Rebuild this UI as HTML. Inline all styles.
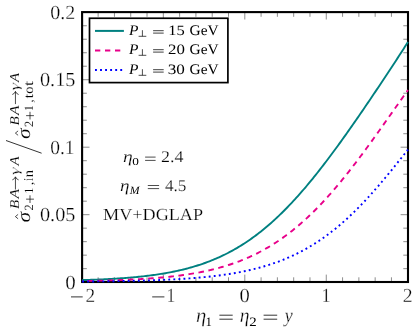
<!DOCTYPE html>
<html><head><meta charset="utf-8"><title>plot</title>
<style>
html,body{margin:0;padding:0;background:#fff;}
svg{display:block;will-change:transform;}
text{font-family:"Liberation Serif",serif;fill:#000;text-rendering:geometricPrecision;}
.it{font-style:italic;}
.t3 text{stroke:#fff;stroke-width:0.28px;}
.t2 text{stroke:#fff;stroke-width:0.2px;}
.t1 text{stroke:#fff;stroke-width:0.12px;}
svg text.nt{stroke:none;}
svg text.g{stroke:#fff;stroke-width:0.3px;}
</style></head><body>
<svg width="418" height="332" viewBox="0 0 418 332">
<rect width="418" height="332" fill="#fff"/>
<g id="ticks">
<line x1="81.85" y1="282.0" x2="81.85" y2="274.60" stroke="#5c5c5c" stroke-width="0.7"/>
<line x1="81.85" y1="12.1" x2="81.85" y2="19.50" stroke="#5c5c5c" stroke-width="0.7"/>
<line x1="98.14" y1="282.0" x2="98.14" y2="277.30" stroke="#5c5c5c" stroke-width="0.7"/>
<line x1="98.14" y1="12.1" x2="98.14" y2="16.80" stroke="#5c5c5c" stroke-width="0.7"/>
<line x1="114.44" y1="282.0" x2="114.44" y2="277.30" stroke="#5c5c5c" stroke-width="0.7"/>
<line x1="114.44" y1="12.1" x2="114.44" y2="16.80" stroke="#5c5c5c" stroke-width="0.7"/>
<line x1="130.73" y1="282.0" x2="130.73" y2="277.30" stroke="#5c5c5c" stroke-width="0.7"/>
<line x1="130.73" y1="12.1" x2="130.73" y2="16.80" stroke="#5c5c5c" stroke-width="0.7"/>
<line x1="147.03" y1="282.0" x2="147.03" y2="277.30" stroke="#5c5c5c" stroke-width="0.7"/>
<line x1="147.03" y1="12.1" x2="147.03" y2="16.80" stroke="#5c5c5c" stroke-width="0.7"/>
<line x1="163.32" y1="282.0" x2="163.32" y2="274.60" stroke="#5c5c5c" stroke-width="0.7"/>
<line x1="163.32" y1="12.1" x2="163.32" y2="19.50" stroke="#5c5c5c" stroke-width="0.7"/>
<line x1="179.62" y1="282.0" x2="179.62" y2="277.30" stroke="#5c5c5c" stroke-width="0.7"/>
<line x1="179.62" y1="12.1" x2="179.62" y2="16.80" stroke="#5c5c5c" stroke-width="0.7"/>
<line x1="195.91" y1="282.0" x2="195.91" y2="277.30" stroke="#5c5c5c" stroke-width="0.7"/>
<line x1="195.91" y1="12.1" x2="195.91" y2="16.80" stroke="#5c5c5c" stroke-width="0.7"/>
<line x1="212.21" y1="282.0" x2="212.21" y2="277.30" stroke="#5c5c5c" stroke-width="0.7"/>
<line x1="212.21" y1="12.1" x2="212.21" y2="16.80" stroke="#5c5c5c" stroke-width="0.7"/>
<line x1="228.50" y1="282.0" x2="228.50" y2="277.30" stroke="#5c5c5c" stroke-width="0.7"/>
<line x1="228.50" y1="12.1" x2="228.50" y2="16.80" stroke="#5c5c5c" stroke-width="0.7"/>
<line x1="244.80" y1="282.0" x2="244.80" y2="274.60" stroke="#5c5c5c" stroke-width="0.7"/>
<line x1="244.80" y1="12.1" x2="244.80" y2="19.50" stroke="#5c5c5c" stroke-width="0.7"/>
<line x1="261.09" y1="282.0" x2="261.09" y2="277.30" stroke="#5c5c5c" stroke-width="0.7"/>
<line x1="261.09" y1="12.1" x2="261.09" y2="16.80" stroke="#5c5c5c" stroke-width="0.7"/>
<line x1="277.39" y1="282.0" x2="277.39" y2="277.30" stroke="#5c5c5c" stroke-width="0.7"/>
<line x1="277.39" y1="12.1" x2="277.39" y2="16.80" stroke="#5c5c5c" stroke-width="0.7"/>
<line x1="293.68" y1="282.0" x2="293.68" y2="277.30" stroke="#5c5c5c" stroke-width="0.7"/>
<line x1="293.68" y1="12.1" x2="293.68" y2="16.80" stroke="#5c5c5c" stroke-width="0.7"/>
<line x1="309.98" y1="282.0" x2="309.98" y2="277.30" stroke="#5c5c5c" stroke-width="0.7"/>
<line x1="309.98" y1="12.1" x2="309.98" y2="16.80" stroke="#5c5c5c" stroke-width="0.7"/>
<line x1="326.27" y1="282.0" x2="326.27" y2="274.60" stroke="#5c5c5c" stroke-width="0.7"/>
<line x1="326.27" y1="12.1" x2="326.27" y2="19.50" stroke="#5c5c5c" stroke-width="0.7"/>
<line x1="342.57" y1="282.0" x2="342.57" y2="277.30" stroke="#5c5c5c" stroke-width="0.7"/>
<line x1="342.57" y1="12.1" x2="342.57" y2="16.80" stroke="#5c5c5c" stroke-width="0.7"/>
<line x1="358.87" y1="282.0" x2="358.87" y2="277.30" stroke="#5c5c5c" stroke-width="0.7"/>
<line x1="358.87" y1="12.1" x2="358.87" y2="16.80" stroke="#5c5c5c" stroke-width="0.7"/>
<line x1="375.16" y1="282.0" x2="375.16" y2="277.30" stroke="#5c5c5c" stroke-width="0.7"/>
<line x1="375.16" y1="12.1" x2="375.16" y2="16.80" stroke="#5c5c5c" stroke-width="0.7"/>
<line x1="391.45" y1="282.0" x2="391.45" y2="277.30" stroke="#5c5c5c" stroke-width="0.7"/>
<line x1="391.45" y1="12.1" x2="391.45" y2="16.80" stroke="#5c5c5c" stroke-width="0.7"/>
<line x1="407.75" y1="282.0" x2="407.75" y2="274.60" stroke="#5c5c5c" stroke-width="0.7"/>
<line x1="407.75" y1="12.1" x2="407.75" y2="19.50" stroke="#5c5c5c" stroke-width="0.7"/>
<line x1="82.1" y1="282.15" x2="89.50" y2="282.15" stroke="#5c5c5c" stroke-width="0.7"/>
<line x1="408.0" y1="282.15" x2="400.60" y2="282.15" stroke="#5c5c5c" stroke-width="0.7"/>
<line x1="82.1" y1="268.65" x2="86.80" y2="268.65" stroke="#5c5c5c" stroke-width="0.7"/>
<line x1="408.0" y1="268.65" x2="403.30" y2="268.65" stroke="#5c5c5c" stroke-width="0.7"/>
<line x1="82.1" y1="255.16" x2="86.80" y2="255.16" stroke="#5c5c5c" stroke-width="0.7"/>
<line x1="408.0" y1="255.16" x2="403.30" y2="255.16" stroke="#5c5c5c" stroke-width="0.7"/>
<line x1="82.1" y1="241.66" x2="86.80" y2="241.66" stroke="#5c5c5c" stroke-width="0.7"/>
<line x1="408.0" y1="241.66" x2="403.30" y2="241.66" stroke="#5c5c5c" stroke-width="0.7"/>
<line x1="82.1" y1="228.17" x2="86.80" y2="228.17" stroke="#5c5c5c" stroke-width="0.7"/>
<line x1="408.0" y1="228.17" x2="403.30" y2="228.17" stroke="#5c5c5c" stroke-width="0.7"/>
<line x1="82.1" y1="214.68" x2="89.50" y2="214.68" stroke="#5c5c5c" stroke-width="0.7"/>
<line x1="408.0" y1="214.68" x2="400.60" y2="214.68" stroke="#5c5c5c" stroke-width="0.7"/>
<line x1="82.1" y1="201.18" x2="86.80" y2="201.18" stroke="#5c5c5c" stroke-width="0.7"/>
<line x1="408.0" y1="201.18" x2="403.30" y2="201.18" stroke="#5c5c5c" stroke-width="0.7"/>
<line x1="82.1" y1="187.69" x2="86.80" y2="187.69" stroke="#5c5c5c" stroke-width="0.7"/>
<line x1="408.0" y1="187.69" x2="403.30" y2="187.69" stroke="#5c5c5c" stroke-width="0.7"/>
<line x1="82.1" y1="174.19" x2="86.80" y2="174.19" stroke="#5c5c5c" stroke-width="0.7"/>
<line x1="408.0" y1="174.19" x2="403.30" y2="174.19" stroke="#5c5c5c" stroke-width="0.7"/>
<line x1="82.1" y1="160.70" x2="86.80" y2="160.70" stroke="#5c5c5c" stroke-width="0.7"/>
<line x1="408.0" y1="160.70" x2="403.30" y2="160.70" stroke="#5c5c5c" stroke-width="0.7"/>
<line x1="82.1" y1="147.20" x2="89.50" y2="147.20" stroke="#5c5c5c" stroke-width="0.7"/>
<line x1="408.0" y1="147.20" x2="400.60" y2="147.20" stroke="#5c5c5c" stroke-width="0.7"/>
<line x1="82.1" y1="133.71" x2="86.80" y2="133.71" stroke="#5c5c5c" stroke-width="0.7"/>
<line x1="408.0" y1="133.71" x2="403.30" y2="133.71" stroke="#5c5c5c" stroke-width="0.7"/>
<line x1="82.1" y1="120.21" x2="86.80" y2="120.21" stroke="#5c5c5c" stroke-width="0.7"/>
<line x1="408.0" y1="120.21" x2="403.30" y2="120.21" stroke="#5c5c5c" stroke-width="0.7"/>
<line x1="82.1" y1="106.72" x2="86.80" y2="106.72" stroke="#5c5c5c" stroke-width="0.7"/>
<line x1="408.0" y1="106.72" x2="403.30" y2="106.72" stroke="#5c5c5c" stroke-width="0.7"/>
<line x1="82.1" y1="93.22" x2="86.80" y2="93.22" stroke="#5c5c5c" stroke-width="0.7"/>
<line x1="408.0" y1="93.22" x2="403.30" y2="93.22" stroke="#5c5c5c" stroke-width="0.7"/>
<line x1="82.1" y1="79.73" x2="89.50" y2="79.73" stroke="#5c5c5c" stroke-width="0.7"/>
<line x1="408.0" y1="79.73" x2="400.60" y2="79.73" stroke="#5c5c5c" stroke-width="0.7"/>
<line x1="82.1" y1="66.23" x2="86.80" y2="66.23" stroke="#5c5c5c" stroke-width="0.7"/>
<line x1="408.0" y1="66.23" x2="403.30" y2="66.23" stroke="#5c5c5c" stroke-width="0.7"/>
<line x1="82.1" y1="52.74" x2="86.80" y2="52.74" stroke="#5c5c5c" stroke-width="0.7"/>
<line x1="408.0" y1="52.74" x2="403.30" y2="52.74" stroke="#5c5c5c" stroke-width="0.7"/>
<line x1="82.1" y1="39.24" x2="86.80" y2="39.24" stroke="#5c5c5c" stroke-width="0.7"/>
<line x1="408.0" y1="39.24" x2="403.30" y2="39.24" stroke="#5c5c5c" stroke-width="0.7"/>
<line x1="82.1" y1="25.75" x2="86.80" y2="25.75" stroke="#5c5c5c" stroke-width="0.7"/>
<line x1="408.0" y1="25.75" x2="403.30" y2="25.75" stroke="#5c5c5c" stroke-width="0.7"/>
<line x1="82.1" y1="12.25" x2="89.50" y2="12.25" stroke="#5c5c5c" stroke-width="0.7"/>
<line x1="408.0" y1="12.25" x2="400.60" y2="12.25" stroke="#5c5c5c" stroke-width="0.7"/>
</g>
<rect x="82.1" y="12.1" width="325.90" height="269.90" fill="none" stroke="#000" stroke-width="2.1"/>
<g fill="none" stroke-width="1.9">
<path d="M82.10,280.11 L83.59,280.06 L85.08,280.02 L86.56,279.97 L88.05,279.92 L89.54,279.87 L91.03,279.82 L92.52,279.76 L94.01,279.71 L95.49,279.65 L96.98,279.59 L98.47,279.53 L99.96,279.46 L101.45,279.40 L102.93,279.33 L104.42,279.26 L105.91,279.18 L107.40,279.11 L108.89,279.03 L110.37,278.95 L111.86,278.87 L113.35,278.78 L114.84,278.69 L116.33,278.60 L117.82,278.50 L119.30,278.41 L120.79,278.30 L122.28,278.20 L123.77,278.09 L125.26,277.98 L126.74,277.86 L128.23,277.75 L129.72,277.62 L131.21,277.50 L132.70,277.37 L134.18,277.23 L135.67,277.09 L137.16,276.95 L138.65,276.80 L140.14,276.65 L141.63,276.49 L143.11,276.33 L144.60,276.16 L146.09,275.98 L147.58,275.81 L149.07,275.62 L150.55,275.43 L152.04,275.24 L153.53,275.04 L155.02,274.83 L156.51,274.61 L157.99,274.39 L159.48,274.17 L160.97,273.93 L162.46,273.69 L163.95,273.44 L165.44,273.19 L166.92,272.92 L168.41,272.65 L169.90,272.37 L171.39,272.09 L172.88,271.79 L174.36,271.49 L175.85,271.17 L177.34,270.85 L178.83,270.52 L180.32,270.18 L181.80,269.83 L183.29,269.47 L184.78,269.10 L186.27,268.72 L187.76,268.33 L189.25,267.93 L190.73,267.51 L192.22,267.09 L193.71,266.66 L195.20,266.21 L196.69,265.75 L198.17,265.28 L199.66,264.80 L201.15,264.30 L202.64,263.80 L204.13,263.27 L205.61,262.74 L207.10,262.19 L208.59,261.63 L210.08,261.06 L211.57,260.47 L213.06,259.86 L214.54,259.24 L216.03,258.61 L217.52,257.96 L219.01,257.30 L220.50,256.62 L221.98,255.92 L223.47,255.21 L224.96,254.48 L226.45,253.74 L227.94,252.98 L229.42,252.20 L230.91,251.41 L232.40,250.60 L233.89,249.77 L235.38,248.92 L236.87,248.06 L238.35,247.17 L239.84,246.27 L241.33,245.35 L242.82,244.42 L244.31,243.46 L245.79,242.49 L247.28,241.49 L248.77,240.48 L250.26,239.45 L251.75,238.40 L253.23,237.33 L254.72,236.24 L256.21,235.13 L257.70,234.00 L259.19,232.85 L260.68,231.68 L262.16,230.49 L263.65,229.29 L265.14,228.06 L266.63,226.81 L268.12,225.54 L269.60,224.25 L271.09,222.95 L272.58,221.62 L274.07,220.27 L275.56,218.90 L277.04,217.51 L278.53,216.11 L280.02,214.68 L281.51,213.23 L283.00,211.76 L284.49,210.28 L285.97,208.77 L287.46,207.25 L288.95,205.70 L290.44,204.14 L291.93,202.56 L293.41,200.96 L294.90,199.34 L296.39,197.70 L297.88,196.05 L299.37,194.38 L300.85,192.68 L302.34,190.98 L303.83,189.25 L305.32,187.51 L306.81,185.75 L308.30,183.97 L309.78,182.18 L311.27,180.37 L312.76,178.55 L314.25,176.71 L315.74,174.86 L317.22,172.99 L318.71,171.10 L320.20,169.21 L321.69,167.29 L323.18,165.37 L324.66,163.43 L326.15,161.48 L327.64,159.52 L329.13,157.54 L330.62,155.55 L332.11,153.55 L333.59,151.54 L335.08,149.52 L336.57,147.49 L338.06,145.44 L339.55,143.39 L341.03,141.33 L342.52,139.26 L344.01,137.17 L345.50,135.08 L346.99,132.99 L348.47,130.88 L349.96,128.77 L351.45,126.64 L352.94,124.52 L354.43,122.38 L355.92,120.24 L357.40,118.09 L358.89,115.93 L360.38,113.77 L361.87,111.60 L363.36,109.43 L364.84,107.25 L366.33,105.07 L367.82,102.88 L369.31,100.69 L370.80,98.49 L372.28,96.29 L373.77,94.08 L375.26,91.87 L376.75,89.65 L378.24,87.43 L379.73,85.20 L381.21,82.97 L382.70,80.74 L384.19,78.50 L385.68,76.25 L387.17,74.00 L388.65,71.75 L390.14,69.49 L391.63,67.23 L393.12,64.96 L394.61,62.69 L396.09,60.41 L397.58,58.12 L399.07,55.83 L400.56,53.53 L402.05,51.22 L403.54,48.91 L405.02,46.58 L406.51,44.25 L408.00,41.91" stroke="#008080"/>
<path d="M82.10,281.01 L83.59,280.99 L85.08,280.96 L86.56,280.93 L88.05,280.91 L89.54,280.88 L91.03,280.85 L92.52,280.82 L94.01,280.79 L95.49,280.75 L96.98,280.72 L98.47,280.69 L99.96,280.65 L101.45,280.61 L102.93,280.58 L104.42,280.54 L105.91,280.50 L107.40,280.45 L108.89,280.41 L110.37,280.37 L111.86,280.32 L113.35,280.27 L114.84,280.22 L116.33,280.17 L117.82,280.12 L119.30,280.06 L120.79,280.01 L122.28,279.95 L123.77,279.89 L125.26,279.83 L126.74,279.76 L128.23,279.70 L129.72,279.63 L131.21,279.56 L132.70,279.49 L134.18,279.41 L135.67,279.34 L137.16,279.26 L138.65,279.17 L140.14,279.09 L141.63,279.00 L143.11,278.91 L144.60,278.82 L146.09,278.72 L147.58,278.62 L149.07,278.52 L150.55,278.41 L152.04,278.30 L153.53,278.19 L155.02,278.07 L156.51,277.95 L157.99,277.83 L159.48,277.70 L160.97,277.57 L162.46,277.44 L163.95,277.30 L165.44,277.15 L166.92,277.00 L168.41,276.85 L169.90,276.69 L171.39,276.53 L172.88,276.36 L174.36,276.19 L175.85,276.01 L177.34,275.83 L178.83,275.64 L180.32,275.45 L181.80,275.25 L183.29,275.04 L184.78,274.83 L186.27,274.61 L187.76,274.39 L189.25,274.15 L190.73,273.92 L192.22,273.67 L193.71,273.42 L195.20,273.16 L196.69,272.89 L198.17,272.62 L199.66,272.34 L201.15,272.05 L202.64,271.75 L204.13,271.44 L205.61,271.12 L207.10,270.80 L208.59,270.47 L210.08,270.12 L211.57,269.77 L213.06,269.41 L214.54,269.04 L216.03,268.66 L217.52,268.27 L219.01,267.87 L220.50,267.45 L221.98,267.03 L223.47,266.60 L224.96,266.15 L226.45,265.69 L227.94,265.23 L229.42,264.74 L230.91,264.25 L232.40,263.75 L233.89,263.23 L235.38,262.70 L236.87,262.15 L238.35,261.60 L239.84,261.03 L241.33,260.44 L242.82,259.84 L244.31,259.23 L245.79,258.61 L247.28,257.96 L248.77,257.31 L250.26,256.64 L251.75,255.95 L253.23,255.25 L254.72,254.53 L256.21,253.80 L257.70,253.05 L259.19,252.28 L260.68,251.50 L262.16,250.70 L263.65,249.88 L265.14,249.05 L266.63,248.19 L268.12,247.33 L269.60,246.44 L271.09,245.53 L272.58,244.61 L274.07,243.67 L275.56,242.71 L277.04,241.73 L278.53,240.74 L280.02,239.72 L281.51,238.69 L283.00,237.64 L284.49,236.56 L285.97,235.47 L287.46,234.36 L288.95,233.23 L290.44,232.08 L291.93,230.91 L293.41,229.72 L294.90,228.51 L296.39,227.28 L297.88,226.03 L299.37,224.76 L300.85,223.47 L302.34,222.16 L303.83,220.83 L305.32,219.48 L306.81,218.11 L308.30,216.72 L309.78,215.31 L311.27,213.88 L312.76,212.43 L314.25,210.96 L315.74,209.47 L317.22,207.96 L318.71,206.44 L320.20,204.89 L321.69,203.32 L323.18,201.74 L324.66,200.13 L326.15,198.51 L327.64,196.86 L329.13,195.20 L330.62,193.53 L332.11,191.83 L333.59,190.11 L335.08,188.38 L336.57,186.63 L338.06,184.87 L339.55,183.08 L341.03,181.28 L342.52,179.47 L344.01,177.64 L345.50,175.79 L346.99,173.93 L348.47,172.05 L349.96,170.16 L351.45,168.26 L352.94,166.34 L354.43,164.41 L355.92,162.46 L357.40,160.50 L358.89,158.53 L360.38,156.55 L361.87,154.56 L363.36,152.56 L364.84,150.55 L366.33,148.52 L367.82,146.49 L369.31,144.45 L370.80,142.40 L372.28,140.34 L373.77,138.28 L375.26,136.21 L376.75,134.13 L378.24,132.05 L379.73,129.96 L381.21,127.87 L382.70,125.77 L384.19,123.67 L385.68,121.56 L387.17,119.46 L388.65,117.35 L390.14,115.24 L391.63,113.12 L393.12,111.01 L394.61,108.90 L396.09,106.79 L397.58,104.68 L399.07,102.57 L400.56,100.46 L402.05,98.36 L403.54,96.26 L405.02,94.16 L406.51,92.07 L408.00,89.98" stroke="#e8008a" stroke-dasharray="5.6,4.55" stroke-dashoffset="5"/>
<path d="M82.10,281.56 L83.59,281.55 L85.08,281.54 L86.56,281.52 L88.05,281.51 L89.54,281.50 L91.03,281.48 L92.52,281.47 L94.01,281.45 L95.49,281.44 L96.98,281.42 L98.47,281.40 L99.96,281.39 L101.45,281.37 L102.93,281.35 L104.42,281.33 L105.91,281.31 L107.40,281.29 L108.89,281.27 L110.37,281.25 L111.86,281.23 L113.35,281.21 L114.84,281.19 L116.33,281.16 L117.82,281.14 L119.30,281.11 L120.79,281.09 L122.28,281.06 L123.77,281.03 L125.26,281.00 L126.74,280.97 L128.23,280.94 L129.72,280.91 L131.21,280.88 L132.70,280.85 L134.18,280.81 L135.67,280.78 L137.16,280.74 L138.65,280.70 L140.14,280.66 L141.63,280.62 L143.11,280.58 L144.60,280.54 L146.09,280.49 L147.58,280.45 L149.07,280.40 L150.55,280.35 L152.04,280.30 L153.53,280.25 L155.02,280.20 L156.51,280.14 L157.99,280.09 L159.48,280.03 L160.97,279.97 L162.46,279.91 L163.95,279.84 L165.44,279.78 L166.92,279.71 L168.41,279.64 L169.90,279.57 L171.39,279.50 L172.88,279.42 L174.36,279.34 L175.85,279.26 L177.34,279.18 L178.83,279.09 L180.32,279.00 L181.80,278.91 L183.29,278.81 L184.78,278.72 L186.27,278.62 L187.76,278.51 L189.25,278.41 L190.73,278.30 L192.22,278.18 L193.71,278.07 L195.20,277.95 L196.69,277.83 L198.17,277.70 L199.66,277.57 L201.15,277.43 L202.64,277.29 L204.13,277.15 L205.61,277.00 L207.10,276.85 L208.59,276.70 L210.08,276.54 L211.57,276.37 L213.06,276.20 L214.54,276.03 L216.03,275.84 L217.52,275.66 L219.01,275.47 L220.50,275.27 L221.98,275.07 L223.47,274.86 L224.96,274.65 L226.45,274.43 L227.94,274.20 L229.42,273.97 L230.91,273.73 L232.40,273.49 L233.89,273.24 L235.38,272.98 L236.87,272.71 L238.35,272.43 L239.84,272.15 L241.33,271.86 L242.82,271.57 L244.31,271.26 L245.79,270.95 L247.28,270.63 L248.77,270.29 L250.26,269.96 L251.75,269.61 L253.23,269.25 L254.72,268.88 L256.21,268.50 L257.70,268.12 L259.19,267.72 L260.68,267.31 L262.16,266.89 L263.65,266.47 L265.14,266.03 L266.63,265.58 L268.12,265.11 L269.60,264.64 L271.09,264.15 L272.58,263.66 L274.07,263.15 L275.56,262.63 L277.04,262.09 L278.53,261.54 L280.02,260.98 L281.51,260.41 L283.00,259.82 L284.49,259.22 L285.97,258.60 L287.46,257.97 L288.95,257.32 L290.44,256.66 L291.93,255.99 L293.41,255.30 L294.90,254.59 L296.39,253.87 L297.88,253.14 L299.37,252.38 L300.85,251.61 L302.34,250.83 L303.83,250.02 L305.32,249.20 L306.81,248.37 L308.30,247.51 L309.78,246.64 L311.27,245.75 L312.76,244.84 L314.25,243.92 L315.74,242.97 L317.22,242.01 L318.71,241.03 L320.20,240.03 L321.69,239.01 L323.18,237.97 L324.66,236.91 L326.15,235.84 L327.64,234.74 L329.13,233.63 L330.62,232.49 L332.11,231.34 L333.59,230.16 L335.08,228.97 L336.57,227.76 L338.06,226.52 L339.55,225.27 L341.03,224.00 L342.52,222.71 L344.01,221.39 L345.50,220.06 L346.99,218.71 L348.47,217.34 L349.96,215.95 L351.45,214.54 L352.94,213.11 L354.43,211.66 L355.92,210.19 L357.40,208.70 L358.89,207.20 L360.38,205.67 L361.87,204.13 L363.36,202.57 L364.84,200.99 L366.33,199.40 L367.82,197.79 L369.31,196.16 L370.80,194.51 L372.28,192.85 L373.77,191.18 L375.26,189.48 L376.75,187.78 L378.24,186.06 L379.73,184.32 L381.21,182.58 L382.70,180.82 L384.19,179.05 L385.68,177.26 L387.17,175.47 L388.65,173.66 L390.14,171.85 L391.63,170.03 L393.12,168.20 L394.61,166.36 L396.09,164.51 L397.58,162.66 L399.07,160.81 L400.56,158.95 L402.05,157.09 L403.54,155.22 L405.02,153.36 L406.51,151.49 L408.00,149.62" stroke="#0000ff" stroke-dasharray="1.9,3.17"/>
</g>
<!-- legend -->
<rect x="89.5" y="18.25" width="138.4" height="64.35" fill="#fff" stroke="#000" stroke-width="1.7"/>
<g fill="none" stroke-width="2">
<line x1="95" y1="30.9" x2="123.9" y2="30.9" stroke="#008080"/>
<line x1="95" y1="50.5" x2="123.9" y2="50.5" stroke="#e8008a" stroke-dasharray="5.3,4.7"/>
<line x1="95" y1="69.9" x2="123.9" y2="69.9" stroke="#0000ff" stroke-dasharray="1.9,3.15"/>
</g>
<g id="legtext">
<text class="it" x="128.94" y="35" font-size="14.6" textLength="9.42" lengthAdjust="spacingAndGlyphs">P</text>
<path d="M138.6,36.30H146.3M142.4,36.30V30.20" stroke="#000" stroke-width="0.7" fill="none"/>
<path d="M153.1,30.7H163.7M153.1,33.1H163.7" stroke="#000" stroke-width="0.75" fill="none"/>
<text x="168.31" y="35" font-size="14.3" textLength="16.51" lengthAdjust="spacingAndGlyphs">15</text>
<text x="189.62" y="35" font-size="14.6" textLength="29.13" lengthAdjust="spacingAndGlyphs">GeV</text>
<text class="it" x="128.94" y="54" font-size="14.6" textLength="9.42" lengthAdjust="spacingAndGlyphs">P</text>
<path d="M138.6,55.30H146.3M142.4,55.30V49.20" stroke="#000" stroke-width="0.7" fill="none"/>
<path d="M153.1,49.7H163.7M153.1,52.1H163.7" stroke="#000" stroke-width="0.75" fill="none"/>
<text x="167.97" y="54" font-size="14.3" textLength="16.85" lengthAdjust="spacingAndGlyphs">20</text>
<text x="189.62" y="54" font-size="14.6" textLength="29.13" lengthAdjust="spacingAndGlyphs">GeV</text>
<text class="it" x="128.94" y="74" font-size="14.6" textLength="9.42" lengthAdjust="spacingAndGlyphs">P</text>
<path d="M138.6,75.30H146.3M142.4,75.30V69.20" stroke="#000" stroke-width="0.7" fill="none"/>
<path d="M153.1,69.7H163.7M153.1,72.1H163.7" stroke="#000" stroke-width="0.75" fill="none"/>
<text x="167.70" y="74" font-size="14.3" textLength="17.14" lengthAdjust="spacingAndGlyphs">30</text>
<text x="189.62" y="74" font-size="14.6" textLength="29.13" lengthAdjust="spacingAndGlyphs">GeV</text>
</g>
<!-- y tick labels -->
<g id="ytl" class="t3">
<text x="50.27" y="19" font-size="20" textLength="25.07" lengthAdjust="spacingAndGlyphs">0.2</text>
<text x="39.97" y="86" font-size="20" textLength="35.47" lengthAdjust="spacingAndGlyphs">0.15</text>
<text x="50.29" y="154" font-size="20" textLength="24.32" lengthAdjust="spacingAndGlyphs">0.1</text>
<text x="39.97" y="221" font-size="20" textLength="35.47" lengthAdjust="spacingAndGlyphs">0.05</text>
<text x="65.24" y="289" font-size="20" textLength="10.51" lengthAdjust="spacingAndGlyphs">0</text>
</g>
<!-- x tick labels -->
<g id="xtl" class="t3">
<path d="M71.0,296.9H82.7M152.2,296.9H164.4" stroke="#000" stroke-width="0.8"/>
<text x="85.39" y="302" font-size="20" textLength="9.72" lengthAdjust="spacingAndGlyphs">2</text>
<text x="166.43" y="302" font-size="20" textLength="8.80" lengthAdjust="spacingAndGlyphs">1</text>
<text x="239.56" y="302" font-size="20" textLength="10.29" lengthAdjust="spacingAndGlyphs">0</text>
<text x="321.38" y="302" font-size="20" textLength="9.07" lengthAdjust="spacingAndGlyphs">1</text>
<text x="402.69" y="302" font-size="20" textLength="9.84" lengthAdjust="spacingAndGlyphs">2</text>
</g>
<!-- x label -->
<g id="xlab" class="t3">
<text class="it" x="195.95" y="322" font-size="20.0" textLength="10.32" lengthAdjust="spacingAndGlyphs">η</text>
<text class="nt" x="205.40" y="326" font-size="12.8" textLength="6.40" lengthAdjust="spacingAndGlyphs">1</text>
<path d="M219.4,315.2H232.7M219.4,319.2H232.7" stroke="#000" stroke-width="0.8" fill="none"/>
<text class="it" x="239.79" y="322" font-size="20.0" textLength="9.75" lengthAdjust="spacingAndGlyphs">η</text>
<text class="nt" x="249.33" y="326" font-size="12.8" textLength="7.47" lengthAdjust="spacingAndGlyphs">2</text>
<path d="M263.6,315.2H277.2M263.6,319.2H277.2" stroke="#000" stroke-width="0.8" fill="none"/>
<text class="it" x="284.68" y="322" font-size="20.0" textLength="7.95" lengthAdjust="spacingAndGlyphs">y</text>
</g>
<!-- annotations -->
<g id="annot" class="t2">
<text class="it" x="123.09" y="162" font-size="16.3" textLength="9.75" lengthAdjust="spacingAndGlyphs">η</text>
<text class="nt" x="132.39" y="165" font-size="10.6" textLength="6.63" lengthAdjust="spacingAndGlyphs">0</text>
<path d="M145.1,157.1H155.6M145.1,160.4H155.6" stroke="#000" stroke-width="0.7" fill="none"/>
<text x="161.04" y="162" font-size="16.3" textLength="22.44" lengthAdjust="spacingAndGlyphs">2.4</text>
<text class="it" x="120.00" y="191" font-size="16.3" textLength="9.53" lengthAdjust="spacingAndGlyphs">η</text>
<text class="it nt" x="129.88" y="194" font-size="11.2" textLength="9.84" lengthAdjust="spacingAndGlyphs">M</text>
<path d="M147.8,185.5H159.1M147.8,188.6H159.1" stroke="#000" stroke-width="0.7" fill="none"/>
<text x="164.93" y="191" font-size="16.3" textLength="21.51" lengthAdjust="spacingAndGlyphs">4.5</text>
<text x="103.12" y="220" font-size="16.9" textLength="99.94" lengthAdjust="spacingAndGlyphs">MV+DGLAP</text>
</g>
<!-- y label: rotated -->
<g transform="translate(0,222.1) rotate(-90)">
<g id="yl1" class="t1">
<text class="it" x="-0.34" y="29.6" font-size="19.2" textLength="10.62" lengthAdjust="spacingAndGlyphs">σ</text>
<path d="M3.3,18.1L5.5,15.4L7.7,18.1" stroke="#000" stroke-width="0.7" fill="none" stroke-linejoin="miter"/>
<text class="it" x="13.10" y="18.65" font-size="13.6" textLength="9.26" lengthAdjust="spacingAndGlyphs">B</text>
<text class="it" x="23.68" y="18.65" font-size="13.6" textLength="9.60" lengthAdjust="spacingAndGlyphs">A</text>
<path transform="translate(-1.9,0)" d="M34.5,15.45H46.9M44.1,12.3Q44.8,14.6 47.2,15.45Q44.8,16.3 44.1,18.6" stroke="#000" stroke-width="0.7" fill="none"/>
<text class="it g" x="47.10" y="18.65" font-size="13.4" textLength="7.66" lengthAdjust="spacingAndGlyphs">γ</text>
<text class="it" x="56.53" y="18.65" font-size="13.6" textLength="9.06" lengthAdjust="spacingAndGlyphs">A</text>
<text x="11.71" y="33.2" font-size="12.6" textLength="6.16" lengthAdjust="spacingAndGlyphs">2</text>
<path d="M19.1,30.0H26.8M22.95,26.1V33.9" stroke="#000" stroke-width="0.7" fill="none"/>
<text x="28.50" y="33.2" font-size="12.6" textLength="5.73" lengthAdjust="spacingAndGlyphs">1</text>
<text x="36.94" y="33.2" font-size="13.5" textLength="3.52" lengthAdjust="spacingAndGlyphs">,</text>
<text x="41.12" y="33.2" font-size="13.6" textLength="3.22" lengthAdjust="spacingAndGlyphs">i</text>
<text x="44.77" y="33.2" font-size="13.9" textLength="7.23" lengthAdjust="spacingAndGlyphs">n</text>
</g>
<line x1="68.9" y1="41.6" x2="81.6" y2="6" stroke="#000" stroke-width="0.8"/>
<g id="yl2" class="t1" transform="translate(83.5,0)">
<text class="it" x="-0.34" y="29.6" font-size="19.2" textLength="10.62" lengthAdjust="spacingAndGlyphs">σ</text>
<path d="M3.3,18.1L5.5,15.4L7.7,18.1" stroke="#000" stroke-width="0.7" fill="none" stroke-linejoin="miter"/>
<text class="it" x="13.10" y="18.65" font-size="13.6" textLength="9.26" lengthAdjust="spacingAndGlyphs">B</text>
<text class="it" x="23.68" y="18.65" font-size="13.6" textLength="9.60" lengthAdjust="spacingAndGlyphs">A</text>
<path transform="translate(0,0)" d="M34.5,15.45H46.9M44.1,12.3Q44.8,14.6 47.2,15.45Q44.8,16.3 44.1,18.6" stroke="#000" stroke-width="0.7" fill="none"/>
<text class="it g" x="48.00" y="18.65" font-size="13.4" textLength="7.66" lengthAdjust="spacingAndGlyphs">γ</text>
<text class="it" x="56.53" y="18.65" font-size="13.6" textLength="9.06" lengthAdjust="spacingAndGlyphs">A</text>
<text x="11.71" y="33.2" font-size="12.6" textLength="6.16" lengthAdjust="spacingAndGlyphs">2</text>
<path d="M19.1,30.0H26.8M22.95,26.1V33.9" stroke="#000" stroke-width="0.7" fill="none"/>
<text x="27.60" y="33.2" font-size="12.6" textLength="5.73" lengthAdjust="spacingAndGlyphs">1</text>
<text x="35.86" y="33.2" font-size="13.5" textLength="3.52" lengthAdjust="spacingAndGlyphs">,</text>
<text x="40.00" y="33.2" font-size="13.6" textLength="4.64" lengthAdjust="spacingAndGlyphs">t</text>
<text x="44.85" y="33.2" font-size="13.6" textLength="7.20" lengthAdjust="spacingAndGlyphs">o</text>
<text x="52.40" y="33.2" font-size="13.6" textLength="5.43" lengthAdjust="spacingAndGlyphs">t</text>
</g>
</g>
</svg>
</body></html>
